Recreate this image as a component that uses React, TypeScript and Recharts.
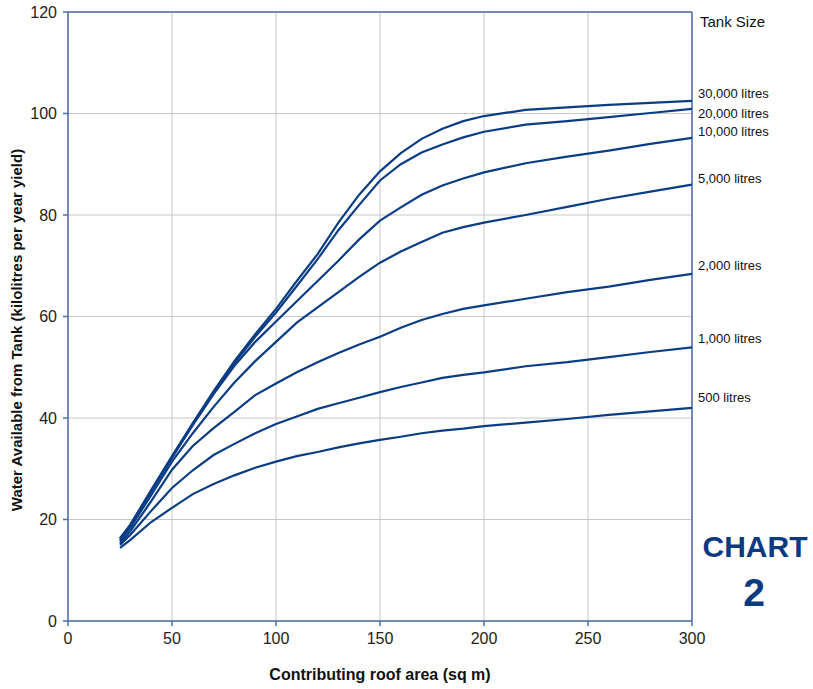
import React from 'react';
import {
  LineChart,
  Line,
  XAxis,
  YAxis,
  CartesianGrid,
  ReferenceLine,
} from 'recharts';

// roof area (sq m) sampled along the curves
const roofArea = [25, 30, 40, 50, 60, 70, 80, 90, 100, 110, 120, 130, 140, 150, 160, 170, 180, 190, 200, 220, 240, 260, 280, 300];

// water available (kL per year) for each tank size
const tank500 = [14.4, 16.0, 19.5, 22.3, 25.0, 27.0, 28.7, 30.2, 31.4, 32.5, 33.3, 34.2, 35.0, 35.7, 36.3, 37.0, 37.5, 37.9, 38.4, 39.1, 39.8, 40.6, 41.3, 42.0];
const tank1000 = [15.0, 17.0, 21.7, 26.2, 29.7, 32.7, 34.9, 37.0, 38.8, 40.3, 41.8, 42.9, 44.0, 45.1, 46.1, 47.0, 47.9, 48.5, 49.0, 50.2, 51.0, 52.0, 53.0, 53.9];
const tank2000 = [15.3, 17.7, 23.6, 29.8, 34.5, 38.0, 41.2, 44.5, 46.8, 49.0, 51.0, 52.8, 54.5, 56.0, 57.8, 59.3, 60.5, 61.5, 62.2, 63.5, 64.8, 65.9, 67.2, 68.4];
const tank5000 = [15.7, 18.4, 24.8, 31.4, 37.0, 42.2, 47.0, 51.2, 55.0, 58.8, 61.8, 64.8, 67.8, 70.6, 72.8, 74.7, 76.5, 77.6, 78.5, 80.0, 81.6, 83.2, 84.6, 86.0];
const tank10000 = [16.0, 18.9, 25.6, 32.2, 38.6, 44.7, 50.3, 55.0, 59.0, 63.0, 67.0, 71.0, 75.2, 78.9, 81.5, 84.0, 85.8, 87.2, 88.4, 90.2, 91.5, 92.7, 94.0, 95.2];
const tank20000 = [16.2, 18.9, 25.7, 32.3, 38.8, 45.0, 50.8, 56.0, 60.8, 66.0, 71.3, 77.0, 82.0, 86.8, 90.0, 92.3, 93.9, 95.3, 96.4, 97.8, 98.5, 99.3, 100.1, 100.9];
const tank30000 = [16.3, 19.0, 25.8, 32.5, 39.0, 45.3, 51.2, 56.5, 61.5, 67.0, 72.3, 78.5, 84.0, 88.6, 92.2, 95.0, 97.0, 98.5, 99.5, 100.7, 101.2, 101.7, 102.1, 102.5];

const xTicks = [0, 50, 100, 150, 200, 250, 300];
const yTicks = [0, 20, 40, 60, 80, 100, 120];

const seriesKeys = ['t500', 't1000', 't2000', 't5000', 't10000', 't20000', 't30000'];
const seriesNames = ['500 litres', '1,000 litres', '2,000 litres', '5,000 litres', '10,000 litres', '20,000 litres', '30,000 litres'];

const data = roofArea.map((area, i) => ({
  area,
  t500: tank500[i],
  t1000: tank1000[i],
  t2000: tank2000[i],
  t5000: tank5000[i],
  t10000: tank10000[i],
  t20000: tank20000[i],
  t30000: tank30000[i],
}));

const LINE = '#0b3d85';
const AXIS = '#4a6fa8';
const FONT = '"Liberation Sans", Arial, sans-serif';

// baseline of each right-hand label, same order as seriesNames
const labelY = [402, 343, 270, 183, 136, 118, 98];

const App: React.FC = () => {
  return (
    <div style={{ position: 'absolute', left: 0, top: 0, width: 813, height: 689, background: '#fff' }}>
      <LineChart
        width={813}
        height={689}
        data={data}
        margin={{ top: 12, right: 121, bottom: 28, left: 18 }}
      >
        <CartesianGrid stroke="#c8c8c8" strokeWidth={1} />
        <XAxis
          dataKey="area"
          type="number"
          domain={[0, 300]}
          ticks={xTicks}
          height={40}
          stroke={AXIS}
          strokeWidth={1.5}
          tickSize={5}
          tickMargin={7}
          tick={{ fill: '#222', fontSize: 16, fontFamily: FONT }}
        />
        <YAxis
          type="number"
          domain={[0, 120]}
          ticks={yTicks}
          width={50}
          stroke={AXIS}
          strokeWidth={1.5}
          tickSize={5}
          tickMargin={6}
          tick={{ fill: '#222', fontSize: 16, fontFamily: FONT }}
        />
        <ReferenceLine y={120} stroke={AXIS} strokeWidth={1.5} />
        <ReferenceLine x={300} stroke={AXIS} strokeWidth={1.5} />
        {seriesKeys.map((k) => (
          <Line
            key={k}
            dataKey={k}
            type="linear"
            stroke={LINE}
            strokeWidth={2.2}
            dot={false}
            isAnimationActive={false}
          />
        ))}
      </LineChart>
      <svg
        width={813}
        height={689}
        style={{ position: 'absolute', left: 0, top: 0, pointerEvents: 'none' }}
        fontFamily={FONT}
      >
        <text
          x={22}
          y={330}
          transform="rotate(-90 22 330)"
          textAnchor="middle"
          fontSize={15}
          fontWeight="bold"
          fill="#111"
        >
          Water Available from Tank (kilolitres per year yield)
        </text>
        <text
          x={380}
          y={680}
          textAnchor="middle"
          fontSize={16}
          fontWeight="bold"
          fill="#111"
          fontFamily='"Liberation Sans Narrow", "Liberation Sans", Arial, sans-serif'
        >
          Contributing roof area (sq m)
        </text>
        <text x={700} y={27} fontSize={15} fill="#111">
          Tank Size
        </text>
        {seriesNames.map((n, i) => (
          <text key={n} x={698} y={labelY[i]} fontSize={13} fill="#111">
            {n}
          </text>
        ))}
        <text x={755} y={557} textAnchor="middle" fontSize={30} fontWeight="bold" fill="#0a3a82">
          CHART
        </text>
        <text x={754} y={606} textAnchor="middle" fontSize={39} fontWeight="bold" fill="#0a3a82">
          2
        </text>
      </svg>
    </div>
  );
};

export default App;
